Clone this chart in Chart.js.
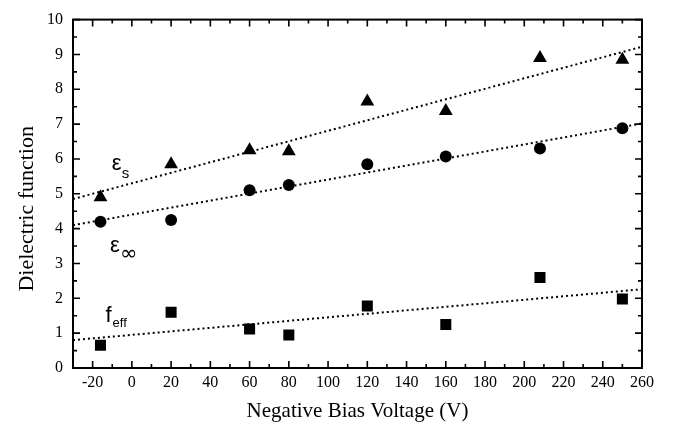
<!DOCTYPE html>
<html>
<head>
<meta charset="utf-8">
<script src="https://cdn.jsdelivr.net/npm/chart.js@4.4.0/dist/chart.umd.min.js"></script>
<style>
  html, body { margin: 0; padding: 0; background: #fff; }
  #wrap { width: 678px; height: 428px; }
</style>
</head>
<body>
<div id="wrap"><canvas id="chart"></canvas></div>
<script>
// Bias voltages of the measured samples
const biasVoltage = [-16, 20, 60, 80, 120, 160, 208, 250];

// Dielectric values
const epsStatic   = [4.9, 5.85, 6.25, 6.22, 7.65, 7.38, 8.9, 8.85];
const epsInfinity = [4.2, 4.25, 5.1, 5.25, 5.85, 6.07, 6.3, 6.88];
const fEff        = [0.65, 1.6, 1.12, 0.95, 1.78, 1.25, 2.6, 1.98];

// Dotted fit lines, end points at the axis limits
const fitX        = [-30, 260];
const fitStatic   = [4.85, 9.22];
const fitInfinity = [4.1, 7.02];
const fitEff      = [0.8, 2.26];

// Tick labels
const xTicks = [-20, 0, 20, 40, 60, 80, 100, 120, 140, 160, 180, 200, 220, 240, 260];
const yTicks = [0, 1, 2, 3, 4, 5, 6, 7, 8, 9, 10];

function pts(xs, ys) {
  return xs.map((x, i) => ({ x: x, y: ys[i] }));
}

const serif = 'Liberation Serif, Times New Roman, serif';

// frame, inward ticks on all four sides, y title and curve labels
const framePlugin = {
  id: 'frame',
  afterDraw(chart) {
    const ctx = chart.ctx;
    const a = chart.chartArea;
    const xs = chart.scales.x, ys = chart.scales.y;
    ctx.save();
    ctx.strokeStyle = '#000';
    ctx.lineWidth = 2;
    ctx.strokeRect(a.left, a.top, a.right - a.left, a.bottom - a.top);
    ctx.lineWidth = 1.6;
    ctx.beginPath();
    for (let v = xs.min; v <= xs.max; v += 10) {
      const len = xTicks.includes(v) ? 7 : 4;
      const px = xs.getPixelForValue(v);
      ctx.moveTo(px, a.bottom); ctx.lineTo(px, a.bottom - len);
      ctx.moveTo(px, a.top); ctx.lineTo(px, a.top + len);
    }
    for (let v = ys.min; v <= ys.max; v += 0.5) {
      const len = yTicks.includes(v) ? 7 : 4;
      const py = ys.getPixelForValue(v);
      ctx.moveTo(a.left, py); ctx.lineTo(a.left + len, py);
      ctx.moveTo(a.right, py); ctx.lineTo(a.right - len, py);
    }
    ctx.stroke();

    // y axis title, sits a bit below the middle of the plot like the original
    ctx.fillStyle = '#000';
    ctx.font = '22px ' + serif;
    ctx.textAlign = 'center';
    ctx.textBaseline = 'middle';
    ctx.translate(27, ys.getPixelForValue(5) + 15);
    ctx.rotate(-Math.PI / 2);
    ctx.fillText('Dielectric function', 0, 0);
    ctx.setTransform(1, 0, 0, 1, 0, 0);

    // curve labels
    const lab = (x, y, main, sub, dx, dy, mainFont, subFont) => {
      const px = xs.getPixelForValue(x), py = ys.getPixelForValue(y);
      ctx.textAlign = 'left';
      ctx.textBaseline = 'alphabetic';
      ctx.font = mainFont;
      ctx.fillText(main, px, py);
      ctx.font = subFont;
      ctx.fillText(sub, px + dx, py + dy);
    };
    lab(-10.3, 5.67, 'ε', 's', 10, 8, '22px Liberation Sans', '15px Liberation Sans');
    lab(-11.2, 3.33, 'ε', '∞', 10, 8, '22px Liberation Sans', '21px DejaVu Sans');
    lab(-13.4, 1.31, 'f', 'eff', 7, 5, '22px Liberation Sans', '13px Liberation Sans');
    ctx.restore();
  }
};

const fitStyle = {
  showLine: true,
  borderColor: '#000',
  borderWidth: 2,
  borderDash: [2, 3],
  pointRadius: 0,
  fill: false
};

new Chart(document.getElementById('chart'), {
  type: 'scatter',
  data: {
    datasets: [
      Object.assign({ label: 'fit εs', data: pts(fitX, fitStatic) }, fitStyle),
      Object.assign({ label: 'fit ε∞', data: pts(fitX, fitInfinity) }, fitStyle),
      Object.assign({ label: 'fit feff', data: pts(fitX, fitEff) }, fitStyle),
      {
        label: 'εs',
        data: pts(biasVoltage, epsStatic),
        pointStyle: 'triangle',
        pointRadius: 8,
        backgroundColor: '#000',
        borderColor: '#000',
        borderWidth: 0
      },
      {
        label: 'ε∞',
        data: pts(biasVoltage, epsInfinity),
        pointStyle: 'circle',
        pointRadius: 6,
        backgroundColor: '#000',
        borderColor: '#000',
        borderWidth: 0
      },
      {
        label: 'feff',
        data: pts(biasVoltage, fEff),
        pointStyle: 'rect',
        pointRadius: 7.8,
        backgroundColor: '#000',
        borderColor: '#000',
        borderWidth: 0
      }
    ]
  },
  options: {
    responsive: true,
    maintainAspectRatio: false,
    animation: false,
    layout: { padding: { top: 11, right: 36, left: 0, bottom: 0 } },
    plugins: {
      legend: { display: false },
      tooltip: { enabled: false }
    },
    scales: {
      x: {
        type: 'linear',
        min: -30,
        max: 260,
        afterBuildTicks: s => { s.ticks = xTicks.map(v => ({ value: v })); },
        afterFit: s => { s.height = 60; },
        grid: { display: false, drawTicks: false },
        border: { display: false },
        ticks: {
          color: '#000',
          padding: 5,
          autoSkip: false,
          maxRotation: 0,
          font: { family: serif, size: 16 }
        },
        title: {
          display: true,
          text: 'Negative Bias Voltage (V)',
          color: '#000',
          padding: { top: 0, bottom: 4 },
          font: { family: serif, size: 21 }
        }
      },
      y: {
        type: 'linear',
        min: 0,
        max: 10,
        afterBuildTicks: s => { s.ticks = yTicks.map(v => ({ value: v })); },
        afterFit: s => { s.width = 73; },
        grid: { display: false, drawTicks: false },
        border: { display: false },
        ticks: {
          color: '#000',
          padding: 10,
          font: { family: serif, size: 16 }
        }
      }
    }
  },
  plugins: [framePlugin]
});
</script>
</body>
</html>
